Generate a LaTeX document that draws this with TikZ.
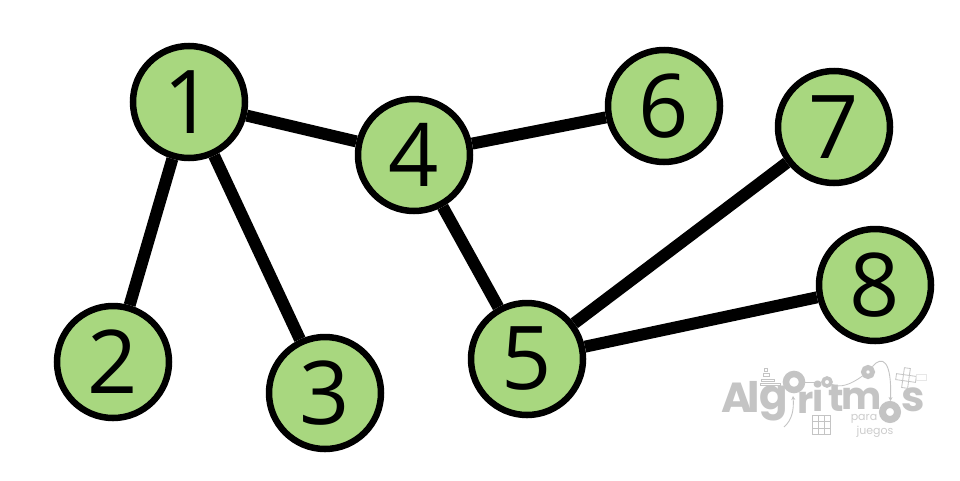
\documentclass[tikz,border=0pt]{standalone}
\usepackage{fontspec}
\setmainfont{Open Sans}
\newfontfamily\logofont{Poppins}
\usetikzlibrary{arrows.meta}
\definecolor{nodegreen}{HTML}{A8D77F}
\definecolor{logogray}{HTML}{C4C4C4}
\tikzset{
  vertex/.style={circle,draw=black,line width=6.5pt,fill=nodegreen,minimum size=112pt,inner sep=0pt,
    font=\fontsize{88}{88}\selectfont,text=black},
  edgeline/.style={draw=black,line width=12pt},
  logoletter/.style={text=logogray,inner sep=0pt,anchor=base,font=\logofont\bfseries\fontsize{42}{42}\selectfont},
  logomid/.style={logoletter,font=\logofont\bfseries\fontsize{38}{38}\selectfont},
  logosmall/.style={text=logogray!85,inner sep=0pt,anchor=base,font=\logofont\fontsize{11}{12}\selectfont},
  logoring/.style={circle,draw=logogray,inner sep=0pt},
  logothin/.style={draw=logogray,line width=0.8pt},
  logoarrow/.style={draw=logogray,line width=0.9pt,-{Stealth[length=4pt,width=4pt]}}
}
\begin{document}
\begin{tikzpicture}[x=1pt,y=-1pt]
\useasboundingbox (0,0) rectangle (960,480);
\fill[white] (0,0) rectangle (960,480);
% logo
\node[logoletter] (lA) at (737,412) {A};
\node[logoletter] (ll) at (754,412) {l};
\node[logoletter] (lg) at (774,409) {g};
\node[logoring,line width=6.5pt,minimum size=16pt] (lo1) at (794,382) {};
\node[logomid] (lr) at (806,413) {r};
\node[logomid] (li) at (818,411) {i};
\node[logoring,line width=3.5pt,minimum size=8pt] (lo2) at (827,382) {};
\node[logomid] (lt) at (836,411) {t};
\node[logomid] (lm) at (862,409) {m};
\node[logoring,line width=5pt,minimum size=9pt] (lo3) at (868,372) {};
\node[logoring,line width=7pt,minimum size=15pt] (lo4) at (890,412) {};
\node[logoletter] (ls) at (913,411) {s};
\node[logosmall] (lpara) at (864,420) {para};
\node[logosmall] (ljuegos) at (875,434) {juegos};
\draw[logothin] (lo1) -- (lo2);
\draw[logothin] (lo2) .. controls (840,388) and (850,385) .. (lo3);
\draw[logoarrow] (lo3) .. controls (882,355) and (892,360) .. (lo4);
\coordinate (arrowfoot) at (784,427);
\draw[logoarrow] (arrowfoot) .. controls (792,420) and (794,410) .. (793,396);
% bars above l
\draw[logothin] (764,368) rectangle (767,371);
\draw[logothin] (763,373) rectangle (769,376);
\draw[logothin] (761,379) rectangle (774,381);
\draw[logothin] (760,383) rectangle (780,385);
% 3x3 grid
\draw[logogray,line width=0.7pt,xstep=6pt,ystep=6.5pt,shift={(812,415)}] (0,0) grid (18,19.5);
% cross puzzle
\draw[logothin,rotate around={-8:(906,378)}] (896,375) rectangle (916,381) (903,368) rectangle (909,388);
\draw[draw=logogray!40,line width=0.6pt] (916,374) rectangle (926,380);
% nodes and edges
\node[vertex] (n1) at (189,102) {\raisebox{-1pt}{1}};
\node[vertex] (n2) at (113,362) {\raisebox{-1pt}{2}};
\node[vertex] (n3) at (325,393) {\raisebox{-1pt}{3}};
\node[vertex] (n4) at (414,155) {\raisebox{-1pt}{4}};
\node[vertex] (n5) at (527,359) {\raisebox{-1pt}{5}};
\node[vertex] (n6) at (664,106) {\raisebox{-1pt}{6}};
\node[vertex] (n7) at (834,127) {\raisebox{-1pt}{7}};
\node[vertex] (n8) at (875,285) {\raisebox{-1pt}{8}};
\draw[edgeline] (n1) -- (n2);
\draw[edgeline] (n1) -- (n3);
\draw[edgeline] (n1) -- (n4);
\draw[edgeline] (n4) -- (n5);
\draw[edgeline] (n4) -- (n6);
\draw[edgeline] (n5) -- (n7);
\draw[edgeline] (n5) -- (n8);
\end{tikzpicture}
\end{document}
